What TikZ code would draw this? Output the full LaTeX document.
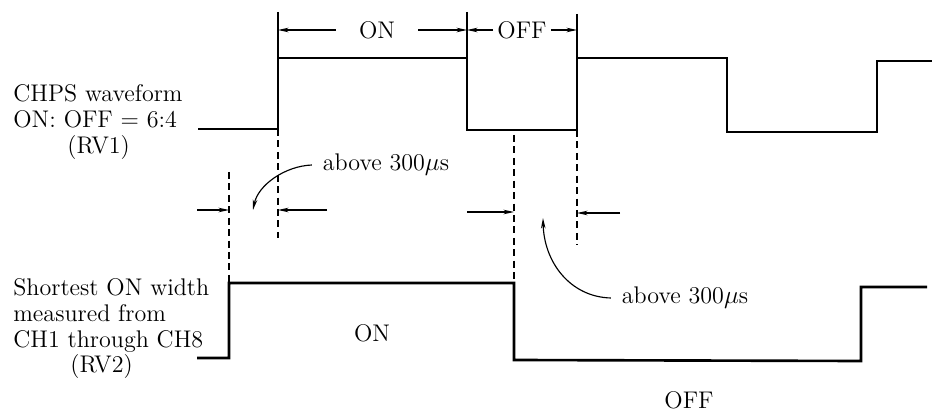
\documentclass[tikz,border=0pt]{standalone}
\usetikzlibrary{positioning, arrows.meta}

\begin{document}
\begin{tikzpicture}[
  x=0.02cm, y=-0.02cm,
  >={Stealth[length=6pt, width=2.6pt]},
  font=\fontsize{13.7}{14.6}\selectfont,
  wave/.style={line width=1.5pt, line join=miter},
  guide/.style={line width=0.65pt},
  guidedash/.style={line width=0.65pt, dash pattern=on 4pt off 2.5pt},
  arr/.style={->, line width=0.65pt},
  lbl/.style={inner sep=0pt}
]
\useasboundingbox (0,0) rectangle (932,411);
\coordinate (t1) at (278,30);
\coordinate (t2) at (467,30);
\coordinate (t3) at (577,30);
\coordinate (m1) at (229,210);
\coordinate (m2) at (278,210);
\coordinate (m3) at (514,212);
\coordinate (m4) at (577,213);
\coordinate (tip1) at (253,210);
\coordinate (tip2) at (543,218);
\node[lbl, anchor=west, align=left] (rv1) at (13,122)
  {CHPS waveform\\ON: OFF = 6:4\\\hspace*{1.08cm}(RV1)};
\node[lbl, anchor=west, align=left] (rv2) at (13,329)
  {Shortest ON width\\measured from\\CH1 through CH8\\\hspace*{1.14cm}(RV2)};
\node[lbl, inner xsep=0.46cm] (ontop) at (377,30) {ON};
\node[lbl, inner xsep=0.08cm] (offtop) at (522,30) {OFF};
\node[lbl, inner xsep=6pt] (above1) at (386,165) {above 300$\mu$s};
\node[lbl, inner xsep=6pt] (above2) at (685,298) {above 300$\mu$s};
\node[lbl] (onbot) at (372,333) {ON};
\node[lbl] (offbot) at (689,400) {OFF};
\draw[wave] (198,129) -- (278,129) -- (278,58) -- (467,58) -- (467,130) -- (577,130)
  -- (577,58) -- (727,58) -- (727,132) -- (877,132) -- (877,61) -- (932,61);
\draw[wave] (197,358) -- (229,358) -- (229,283) -- (514,283) -- (514,360)
  -- (861,361) -- (861,287) -- (927,287);
\draw[guide] (278,12) -- (278,58);
\draw[guide] (467,12) -- (467,58);
\draw[guide] (577,14) -- (577,58);
\draw[guidedash] (278,129) -- (278,238);
\draw[guidedash] (577,130) -- (577,245);
\draw[guidedash] (229,172) -- (229,283);
\draw[guidedash] (514,135) -- (514,283);
\draw[arr] (ontop.west) -- (t1);
\draw[arr] (ontop.east) -- (t2);
\draw[arr] (offtop.west) -- (t2);
\draw[arr] (offtop.east) -- (t3);
\draw[arr] (197,210) -- (m1);
\draw[arr] (327,210) -- (m2);
\draw[arr] (467,212) -- (m3);
\draw[arr] (620,213) -- (m4);
\draw[arr] (above1.west) .. controls (285,166) and (258,185) .. (tip1);
\draw[arr] (above2.west) .. controls (570,297) and (544,262) .. (tip2);
\end{tikzpicture}
\end{document}
